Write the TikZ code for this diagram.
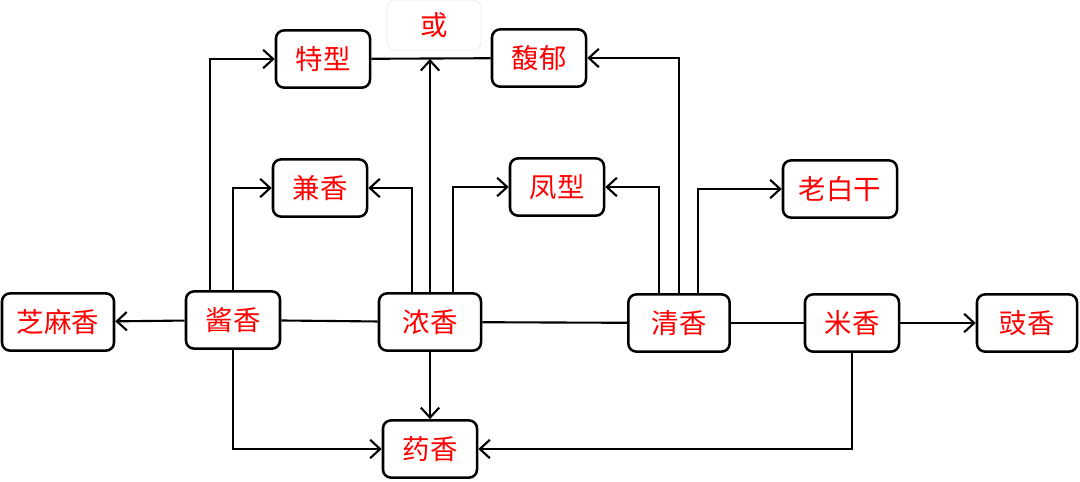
\documentclass[tikz,border=0pt]{standalone}
\usepackage{fontspec}
\setmainfont{Noto Sans CJK SC}
\usetikzlibrary{arrows.meta}

\tikzset{
  box/.style={draw,rounded corners=0.2cm,line width=1.8pt,text=red,
    minimum width=2.35cm,minimum height=1.43cm,font=\fontsize{19.5pt}{23pt}\selectfont},
  faintbox/.style={box,draw=black!8,line width=0.5pt},
  link/.style={line width=1.5pt},
  arr/.style={link,-{Straight Barb[length=2.5mm,width=4.6mm]}}
}

\begin{document}
\begin{tikzpicture}[x=0.025cm,y=-0.025cm]
  \useasboundingbox (0,0) rectangle (1080,481);
  \node[box] (texing) at (323,59) {特型};
  \node[faintbox,minimum height=1.25cm] (huo) at (434,25) {或};
  \node[box] (fuyu) at (539,58) {馥郁};
  \node[box] (jianxiang) at (320,188) {兼香};
  \node[box] (fengxing) at (557,187) {凤型};
  \node[box,minimum width=2.85cm] (laobaigan) at (840,189) {老白干};
  \node[box,minimum width=2.8cm] (zhima) at (58,322) {芝麻香};
  \node[box] (jiang) at (233,320) {酱香};
  \node[box,minimum width=2.55cm] (nong) at (430,322) {浓香};
  \node[box,minimum width=2.53cm] (qing) at (679,323) {清香};
  \node[box] (mi) at (852,323) {米香};
  \node[box,minimum width=2.5cm] (chi) at (1027,323) {豉香};
  \node[box] (yao) at (430,449) {药香};
  \coordinate (orjoin) at (430,59);
  \draw[link] (texing) -- (fuyu);
  \draw[arr] (nong.north) -- (orjoin);
  \draw[arr] ([xshift=-0.575cm]jiang.north) |- (texing.west);
  \draw[arr] (jiang.north) |- (jianxiang.west);
  \draw[arr] ([xshift=-0.45cm]nong.north) |- (jianxiang.east);
  \draw[arr] ([xshift=0.575cm]nong.north) |- (fengxing.west);
  \draw[arr] ([xshift=-0.5cm]qing.north) |- (fengxing.east);
  \draw[arr] (qing.north) |- (fuyu.east);
  \draw[arr] ([xshift=0.475cm]qing.north) |- (laobaigan.west);
  \draw[arr] (jiang) -- (zhima);
  \draw[link] (jiang) -- (nong);
  \draw[link] (nong) -- (qing);
  \draw[link] (qing) -- (mi);
  \draw[arr] (mi) -- (chi);
  \draw[arr] (jiang.south) |- (yao.west);
  \draw[arr] (nong) -- (yao);
  \draw[arr] (mi.south) |- (yao.east);
\end{tikzpicture}
\end{document}
